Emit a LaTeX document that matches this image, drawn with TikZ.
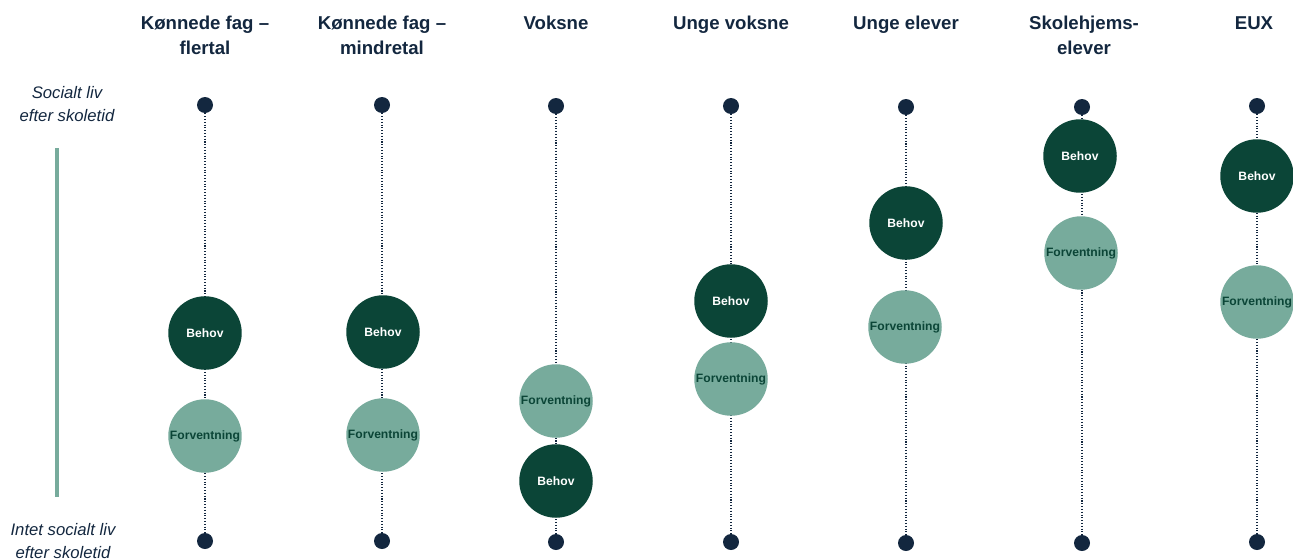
\documentclass[tikz,border=0pt]{standalone}
\usepackage{fontspec}
\setmainfont{Liberation Sans}
\usetikzlibrary{positioning}
\definecolor{navy}{HTML}{13273F}
\definecolor{darkgreen}{HTML}{0B4537}
\definecolor{lightgreen}{HTML}{77AB9C}
\tikzstyle{title} = [text=navy, font=\fontsize{10.6}{14.2}\selectfont\bfseries, align=center, anchor=north]
\tikzstyle{side} = [text=navy, font=\fontsize{9.5}{13.5}\selectfont\itshape, align=center]
\tikzstyle{dot} = [circle, fill=navy, inner sep=0pt, minimum size=0.32cm]
\tikzstyle{axis} = [navy, line width=0.6pt, densely dotted]
\tikzstyle{behov} = [circle, fill=darkgreen, text=white, inner sep=0pt, minimum size=1.47cm, font=\fontsize{6.9}{8}\selectfont\bfseries]
\tikzstyle{forv} = [circle, fill=lightgreen, text=darkgreen, inner sep=0pt, minimum size=1.47cm, font=\fontsize{6.9}{8}\selectfont\bfseries]

\begin{document}
\begin{tikzpicture}[x=0.02cm, y=-0.02cm]
    \useasboundingbox (0,0) rectangle (1293,558);

    % Column titles
    \node (t1) [title] at (205,10) {Kønnede fag –\\flertal};
    \node (t2) [title] at (382,10) {Kønnede fag –\\mindretal};
    \node (t3) [title] at (556,10) {Voksne};
    \node (t4) [title] at (731,10) {Unge voksne};
    \node (t5) [title] at (906,10) {Unge elever};
    \node (t6) [title] at (1084,10) {Skolehjems-\\elever};
    \node (t7) [title] at (1254,10) {EUX};

    % Side labels and scale bar
    \node (high) [side] at (67,104) {Socialt liv\\efter skoletid};
    \node (low) [side] at (63,541) {Intet socialt liv\\efter skoletid};
    \coordinate (barTop) at (57,148);
    \coordinate (barBot) at (57,497);
    \draw [lightgreen, line width=2.2pt] (barTop) -- (barBot);

    % End points
    \node (top1) [dot] at (205,105) {};
    \node (top2) [dot] at (382,105) {};
    \node (top3) [dot] at (556,106) {};
    \node (top4) [dot] at (731,106) {};
    \node (top5) [dot] at (906,107) {};
    \node (top6) [dot] at (1082,107) {};
    \node (top7) [dot] at (1257,106) {};
    \node (bot1) [dot] at (205,541) {};
    \node (bot2) [dot] at (382,541) {};
    \node (bot3) [dot] at (556,542) {};
    \node (bot4) [dot] at (731,542) {};
    \node (bot5) [dot] at (906,543) {};
    \node (bot6) [dot] at (1082,543) {};
    \node (bot7) [dot] at (1257,542) {};

    % Axes
    \draw [axis] (top1) -- (bot1);
    \draw [axis] (top2) -- (bot2);
    \draw [axis] (top3) -- (bot3);
    \draw [axis] (top4) -- (bot4);
    \draw [axis] (top5) -- (bot5);
    \draw [axis] (top6) -- (bot6);
    \draw [axis] (top7) -- (bot7);

    % Behov
    \node (b1) [behov] at (205,333) {Behov};
    \node (b2) [behov] at (383,332) {Behov};
    \node (b3) [behov] at (556,481) {Behov};
    \node (b4) [behov] at (731,301) {Behov};
    \node (b5) [behov] at (906,223) {Behov};
    \node (b6) [behov] at (1080,156) {Behov};
    \node (b7) [behov] at (1257,176) {Behov};

    % Forventning
    \node (f1) [forv] at (205,436) {Forventning};
    \node (f2) [forv] at (383,435) {Forventning};
    \node (f3) [forv] at (556,401) {Forventning};
    \node (f4) [forv] at (731,379) {Forventning};
    \node (f5) [forv] at (905,327) {Forventning};
    \node (f6) [forv] at (1081,253) {Forventning};
    \node (f7) [forv] at (1257,302) {Forventning};

\end{tikzpicture}
\end{document}
